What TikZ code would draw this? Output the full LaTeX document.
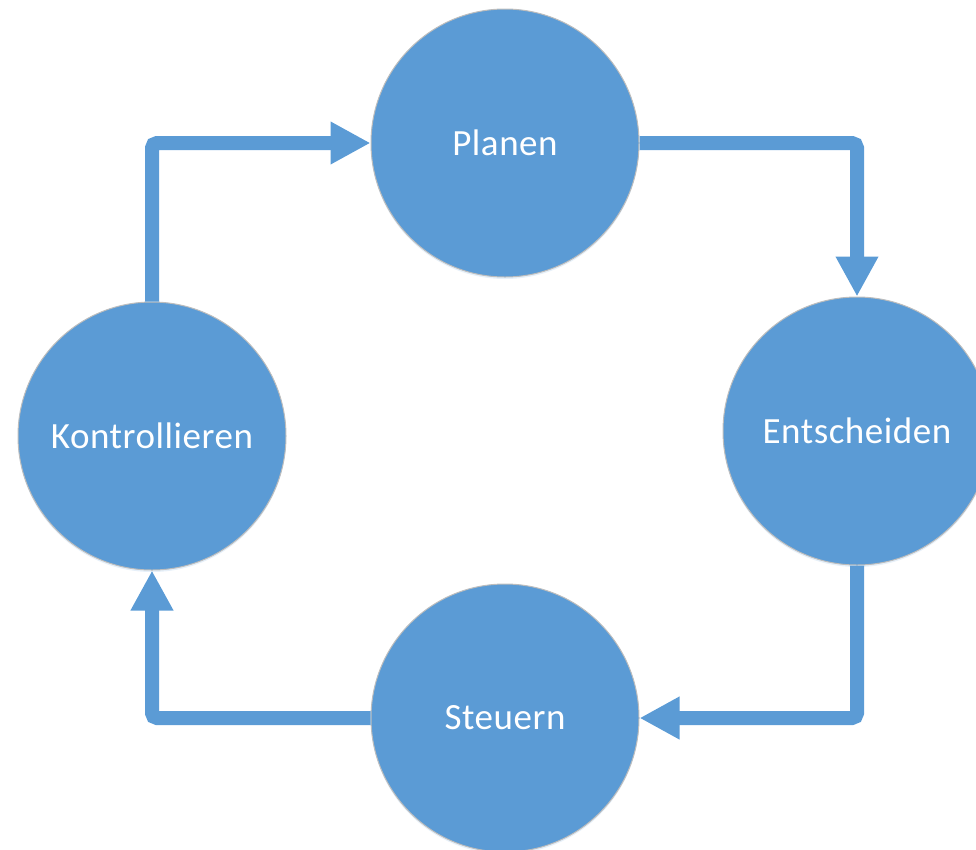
\documentclass[tikz,border=0pt]{standalone}
\usepackage{fontspec}
\setmainfont{Carlito}[LetterSpace=1.5]
\usetikzlibrary{arrows.meta,shadows}
\definecolor{cblue}{HTML}{5B9BD5}
\definecolor{cedge}{HTML}{BDBDBD}
\tikzset{
  phase/.style={circle, minimum size=268pt, inner sep=0pt, fill=cblue, draw=cedge, line width=1pt,
    text=white, font=\fontsize{37}{41}\selectfont,
    drop shadow={shadow xshift=0pt, shadow yshift=-2pt, opacity=0.15, fill=cblue}},
  flow/.style={draw=cblue, line width=14pt, rounded corners=5pt,
    -{Triangle[length=40pt,width=40pt]}}
}
\begin{document}
\begin{tikzpicture}[x=1pt,y=-1pt]
\useasboundingbox (0,0) rectangle (976,849);
\node[phase] (P) at (505,143) {Planen};
\node[phase] (E) at (857,431) {Entscheiden};
\node[phase] (S) at (505,718) {Steuern};
\node[phase] (K) at (152,436) {Kontrollieren};
\draw[flow] (K.north) |- (P.west);
\draw[flow] (P.east) -| (E.north);
\draw[flow] (E.south) |- (S.east);
\draw[flow] (S.west) -| (K.south);
\end{tikzpicture}
\end{document}
